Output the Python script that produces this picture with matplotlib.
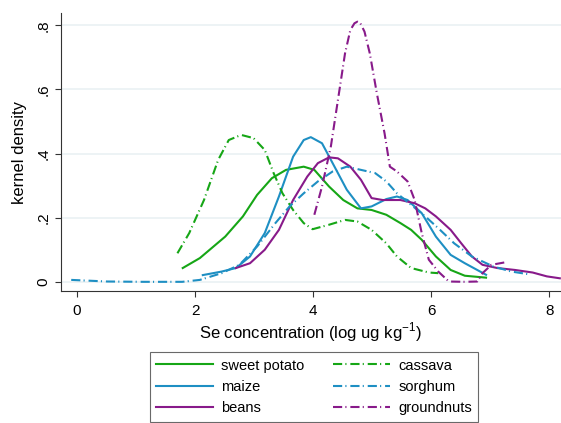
import matplotlib
matplotlib.use("Agg")
import matplotlib.pyplot as plt

plt.rcParams['font.family'] = ['Liberation Sans', 'DejaVu Sans']
plt.rcParams['mathtext.fontset'] = 'custom'
plt.rcParams['mathtext.rm'] = 'Liberation Sans'
plt.rcParams['lines.scale_dashes'] = False

# kernel density curves (x = log Se, y = density)
sweet_x = [1.79, 2.08, 2.51, 2.81, 3.05, 3.30, 3.54, 3.84, 4.02, 4.27, 4.51, 4.75, 4.99,
           5.24, 5.48, 5.66, 5.84, 6.08, 6.33, 6.57, 6.93]
sweet_y = [0.043, 0.074, 0.141, 0.204, 0.271, 0.323, 0.349, 0.359, 0.349, 0.297, 0.255,
           0.229, 0.224, 0.209, 0.183, 0.162, 0.131, 0.079, 0.037, 0.019, 0.013]

maize_x = [2.13, 2.45, 2.69, 2.93, 3.18, 3.42, 3.66, 3.84, 3.96, 4.15, 4.33, 4.57, 4.81,
           4.99, 5.24, 5.42, 5.60, 5.84, 6.08, 6.33, 6.57, 6.93]
maize_y = [0.021, 0.032, 0.043, 0.079, 0.152, 0.266, 0.390, 0.442, 0.451, 0.432, 0.370,
           0.287, 0.229, 0.235, 0.258, 0.266, 0.255, 0.214, 0.141, 0.084, 0.058, 0.022]

beans_x = [2.69, 2.93, 3.18, 3.42, 3.66, 3.90, 4.08, 4.27, 4.42, 4.63, 4.81, 4.99, 5.18,
           5.48, 5.72, 5.90, 6.08, 6.33, 6.51, 6.69, 6.87, 7.12, 7.42, 7.72, 7.96, 8.18]
beans_y = [0.043, 0.058, 0.100, 0.162, 0.255, 0.328, 0.370, 0.388, 0.385, 0.359, 0.318,
           0.261, 0.255, 0.255, 0.245, 0.229, 0.204, 0.162, 0.120, 0.079, 0.053, 0.043,
           0.037, 0.029, 0.017, 0.011]

cassava_x = [1.70, 1.90, 2.15, 2.39, 2.57, 2.78, 2.99, 3.18, 3.33, 3.48, 3.66, 3.84, 3.99,
             4.27, 4.54, 4.75, 4.99, 5.24, 5.42, 5.66, 5.96, 6.12]
cassava_y = [0.089, 0.152, 0.255, 0.380, 0.442, 0.458, 0.448, 0.411, 0.339, 0.276, 0.224,
             0.183, 0.164, 0.178, 0.193, 0.188, 0.162, 0.120, 0.079, 0.043, 0.029, 0.027]

sorghum_x = [-0.10, 0.51, 1.12, 1.78, 2.08, 2.45, 2.75, 3.05, 3.36, 3.60, 3.84, 4.08, 4.33,
             4.57, 4.81, 5.05, 5.24, 5.42, 5.66, 5.90, 6.15, 6.39, 6.69, 7.05, 7.36, 7.64]
sorghum_y = [0.006, 0.001, 0.000, 0.000, 0.006, 0.027, 0.053, 0.110, 0.183, 0.235, 0.276,
             0.313, 0.344, 0.359, 0.349, 0.339, 0.313, 0.276, 0.240, 0.204, 0.162, 0.120,
             0.079, 0.048, 0.032, 0.024]

gnut_x = [4.02, 4.15, 4.30, 4.42, 4.54, 4.63, 4.70, 4.75, 4.80, 4.87, 4.96, 5.08, 5.21,
          5.30, 5.42, 5.60, 5.72, 5.84, 5.96, 6.12, 6.30, 6.57, 6.78, 6.87, 7.02, 7.26]
gnut_y = [0.209, 0.297, 0.422, 0.567, 0.712, 0.785, 0.806, 0.811, 0.806, 0.780, 0.712,
          0.587, 0.463, 0.359, 0.344, 0.313, 0.255, 0.152, 0.069, 0.032, 0.001, 0.000,
          0.001, 0.027, 0.053, 0.061]

green = '#16a616'
blue = '#1e8fc3'
purple = '#881a8a'
dashdot = (0, (6.6, 2.3, 0.8, 2.8))

fig = plt.figure(figsize=(5.61, 4.23), dpi=100)
ax = fig.add_axes([0.108, 0.311, 0.892, 0.659])

lw = 1.5
ax.plot(sweet_x, sweet_y, color=green, lw=lw, label='sweet potato')
ax.plot(maize_x, maize_y, color=blue, lw=lw, label='maize')
ax.plot(beans_x, beans_y, color=purple, lw=lw, label='beans')
ax.plot(cassava_x, cassava_y, color=green, lw=lw, ls=dashdot, label='cassava')
ax.plot(sorghum_x, sorghum_y, color=blue, lw=lw, ls=dashdot, label='sorghum')
ax.plot(gnut_x, gnut_y, color=purple, lw=lw, ls=dashdot, label='groundnuts')

ax.set_xlim(-0.28, 8.2)
ax.set_ylim(-0.030, 0.839)
ax.set_xticks([0, 2, 4, 6, 8])
ax.set_yticks([0, 0.2, 0.4, 0.6, 0.8])
ax.set_yticklabels(['0', '.2', '.4', '.6', '.8'], rotation=90, va='center')
ax.grid(axis='y', color='#eaf1f3', lw=1.2)
ax.set_axisbelow(True)
for s in ['top', 'right']:
    ax.spines[s].set_visible(False)
for s in ['left', 'bottom']:
    ax.spines[s].set_color('#333333')
    ax.spines[s].set_linewidth(0.8)
ax.tick_params(length=4, width=0.8, color='#333333', labelsize=11)
ax.tick_params(axis='x', pad=5)
ax.tick_params(axis='y', pad=3)

ax.set_xlabel(r'Se concentration (log ug kg$^{\mathregular{-1}}$)', fontsize=12, labelpad=1.5)
ax.set_ylabel('kernel density', fontsize=12, labelpad=7)

leg = fig.legend(loc='lower center', bbox_to_anchor=(0.5597, 0.003), ncol=2, fontsize=10.5,
                 frameon=True, fancybox=False, handlelength=3.9, handletextpad=0.57,
                 columnspacing=1.95, labelspacing=0.5, borderpad=0.45, borderaxespad=0)
leg.get_frame().set_edgecolor('#444444')
leg.get_frame().set_linewidth(0.8)

fig.savefig('out.png', dpi=100)
